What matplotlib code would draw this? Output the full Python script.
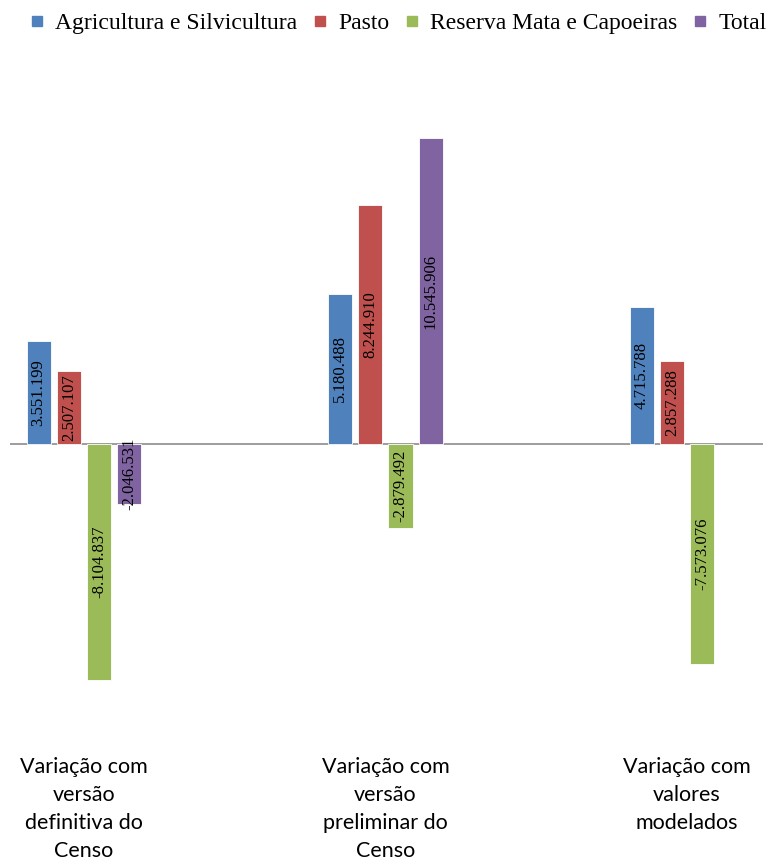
import matplotlib.pyplot as plt
import numpy as np
from matplotlib.lines import Line2D

categories = ['Variação com\nversão\ndefinitiva do\nCenso',
              'Variação com\nversão\npreliminar do\nCenso',
              'Variação com\nvalores\nmodelados']
series_names = ['Agricultura e Silvicultura', 'Pasto', 'Reserva Mata e Capoeiras', 'Total']
agricultura = [3551199, 5180488, 4715788]
pasto = [2507107, 8244910, 2857288]
reserva = [-8104837, -2879492, -7573076]
total = [-2046531, 10545906, None]
colors = ['#4F81BD', '#C0504D', '#9BBB59', '#8064A2']


def fmt(v):
    return f'{v:,}'.replace(',', '.')


def run():
    fig = plt.figure(figsize=(7.68, 8.61), dpi=100)
    ax = fig.add_axes([10 / 768, 0.1468, 753 / 768, 0.7422])

    x = np.arange(len(categories))
    values = [agricultura, pasto, reserva, total]
    offsets = [-0.15, -0.05, 0.05, 0.15]
    for vals, off, col in zip(values, offsets, colors):
        for xi, v in zip(x + off, vals):
            if v is None:  # no Total bar for the last group
                continue
            ax.bar(xi, v / 1e6, width=0.08, color=col, edgecolor='white', linewidth=0.6, zorder=2)
            ax.text(xi, v / 2e6, fmt(v), rotation=90, ha='center', va='center',
                    family='Liberation Serif', fontsize=12, zorder=3)

    ax.axhline(0, color='#8c8c8c', linewidth=1.2, zorder=1)
    ax.set_xlim(-0.245, 2.252)
    ax.set_ylim(-10, 12)
    for s in ax.spines.values():
        s.set_visible(False)
    ax.set_yticks([])
    ax.set_xticks(x)
    ax.set_xticklabels(categories, family='Lato', fontsize=15.5, linespacing=1.5)
    ax.tick_params(axis='x', length=0, pad=16)

    handles = [Line2D([], [], marker='s', linestyle='', markersize=7, color=c) for c in colors]
    fig.legend(handles, series_names, loc='center', bbox_to_anchor=(0.519, 0.973), ncol=4,
               frameon=False, prop={'family': 'Liberation Serif', 'size': 17},
               handlelength=0.55, handletextpad=0.5, columnspacing=0.68, borderaxespad=0,
               borderpad=0)

    fig.savefig('out.png', dpi=100)


if __name__ == "__main__":
    run()
